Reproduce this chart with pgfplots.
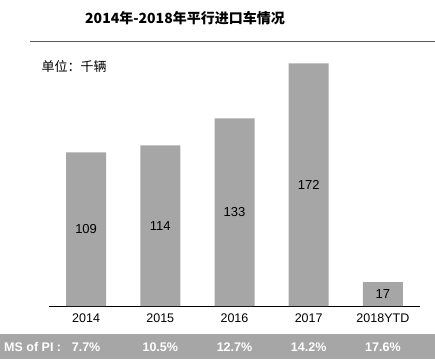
\documentclass[border=0pt]{standalone}
\usepackage{pgfplots}
\pgfplotsset{compat=1.18}
\usepackage{fontspec}
\setmainfont{Liberation Sans}
\newfontfamily\cjk{Noto Sans CJK SC}
\definecolor{bargray}{HTML}{A6A6A6}
\definecolor{linegray}{HTML}{595959}
\begin{document}
\begin{tikzpicture}[x=1pt,y=1pt]
\path[use as bounding box] (0,0) rectangle (435,359);
\fill[bargray] (0,0) rectangle (435,25);
\draw[linegray,line width=1.5pt] (30,317.5) -- (435,317.5);
\node[font={\cjk\bfseries\fontsize{14}{16}\selectfont}] at (185,341) {2014年-2018年平行进口车情况};
\node[font={\cjk\fontsize{13}{15}\selectfont},anchor=west] at (38,292) {单位：千辆};
\node[font={\bfseries\fontsize{12.5}{14}\selectfont},text=white,anchor=west,inner sep=0pt] at (4,12) {MS of PI :};
\begin{axis}[
  at={(49pt,53pt)}, anchor=south west,
  scale only axis, width=371pt, height=253.8pt,
  xmin=-0.5, xmax=4.5, ymin=0, ymax=180,
  axis x line=bottom, axis y line=none,
  axis line style={black,line width=0.8pt,-},
  xtick=data, xticklabels={2014,2015,2016,2017,2018YTD},
  major tick length=0pt,
  xticklabel style={font=\fontsize{12.5}{14}\selectfont, yshift=-4pt},
  ybar, bar width=40pt,
  /pgf/number format/assume math mode=true,
  visualization depends on=y \as \rawy,
  nodes near coords,
  every node near coord/.append style={font=\fontsize{13}{15}\selectfont, anchor=center, shift={(axis direction cs:0,-\rawy/2)}},
  clip=false,
]
\addplot[fill=bargray,draw=none] coordinates {(0,109) (1,114) (2,133) (3,172) (4,17)};
\foreach \i/\t in {0/7.7\%,1/10.5\%,2/12.7\%,3/14.2\%,4/17.6\%}{
  \edef\tmp{\noexpand\node[font=\noexpand\bfseries\noexpand\fontsize{12.5}{14}\noexpand\selectfont,text=white] at (axis cs:\i,0) [yshift=-41pt] {\t};}
  \tmp
}
\end{axis}
\end{tikzpicture}
\end{document}
